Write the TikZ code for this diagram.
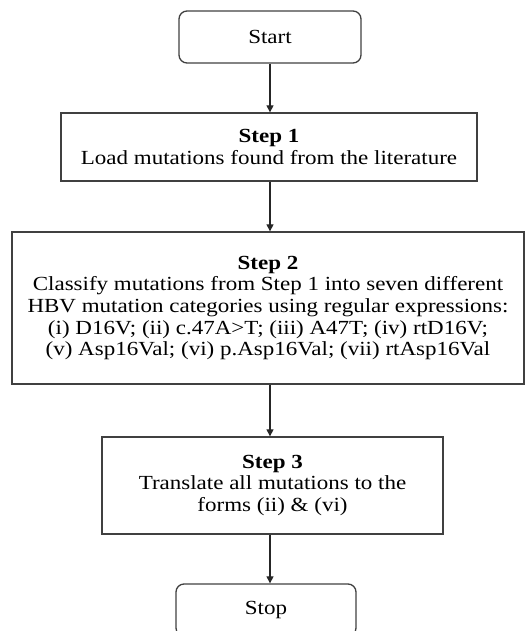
\documentclass[tikz,border=0pt]{standalone}
\usepackage{fontspec}
\setmainfont[FakeStretch=1.15]{Liberation Serif}
\usetikzlibrary{arrows.meta}
\tikzset{
  endbox/.style={draw=black!75,line width=1.3pt,rounded corners=8pt,align=center},
  stepbox/.style={draw=black!75,line width=1.3pt,align=center},
  flow/.style={draw=black!85,line width=1.1pt,-{Triangle[length=7pt,width=7pt]}}
}
\begin{document}
\begin{tikzpicture}[x=1pt,y=-1pt,font=\fontsize{20}{21.7}\selectfont]
\useasboundingbox (0,0) rectangle (526,631);
\node[endbox,minimum width=182pt,minimum height=52pt](start) at (270,37) {Start};
\node[stepbox,minimum width=416pt,minimum height=68pt](step1) at (269,147)
  {\textbf{Step 1}\\Load mutations found from the literature};
\node[stepbox,minimum width=512pt,minimum height=152pt](step2) at (268,308)
  {\textbf{Step 2}\\Classify mutations from Step 1 into seven different\\
   HBV mutation categories using regular expressions:\\
   (i) D16V; (ii) c.47A>T; (iii) A47T; (iv) rtD16V;\\
   (v) Asp16Val; (vi) p.Asp16Val; (vii) rtAsp16Val};
\node[stepbox,minimum width=341pt,minimum height=97pt](step3) at (272.5,485.5)
  {\textbf{Step 3}\\Translate all mutations to the\\forms (ii) \& (vi)};
\node[endbox,minimum width=180pt,minimum height=52pt](stop) at (266,610) {Stop};
% arrows
\draw[flow](start.south-|270,0)--(step1.north-|270,0);
\draw[flow](step1.south-|270,0)--(step2.north-|270,0);
\draw[flow](step2.south-|270,0)--(step3.north-|270,0);
\draw[flow](step3.south-|270,0)--(stop.north-|270,0);
\end{tikzpicture}
\end{document}
